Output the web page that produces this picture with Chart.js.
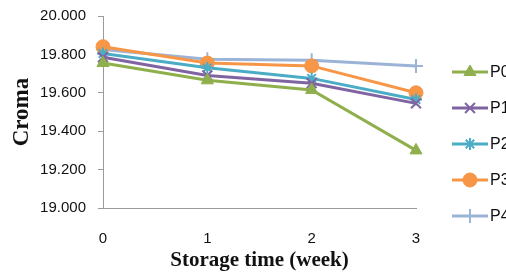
<!DOCTYPE html>
<html>
<head>
<meta charset="utf-8">
<script src="https://cdn.jsdelivr.net/npm/chart.js@4.4.1/dist/chart.umd.min.js"></script>
<style>
  html, body { margin: 0; padding: 0; background: #fff; }
  #wrap { width: 506px; height: 273px; position: relative; }
</style>
</head>
<body>
<div id="wrap"><canvas id="cromaChart"></canvas></div>
<script>
// storage weeks and croma readings per treatment
const weeks = ['0', '1', '2', '3'];
const p0 = [19.755, 19.665, 19.615, 19.300];
const p1 = [19.785, 19.690, 19.650, 19.545];
const p2 = [19.805, 19.730, 19.675, 19.565];
const p3 = [19.840, 19.755, 19.740, 19.600];
const p4 = [19.825, 19.775, 19.770, 19.740];
const seriesNames = ['P0', 'P1', 'P2', 'P3', 'P4'];
const yTicks = [19.0, 19.2, 19.4, 19.6, 19.8, 20.0];

const tickFont = { family: 'Liberation Sans', size: 15 };

function series(label, data, color, style, radius, fill) {
    return {
        label: label,
        data: data,
        borderColor: color,
        backgroundColor: color,
        borderWidth: 3,
        pointStyle: style,
        pointRadius: radius,
        pointBorderWidth: fill ? 1 : 2,
        pointBackgroundColor: color,
        pointBorderColor: color,
        tension: 0
    };
}

// legend with line + marker, like the spreadsheet one
const lineLegend = {
    id: 'lineLegend',
    afterDraw(chart) {
        const ctx = chart.ctx;
        const x0 = chart.chartArea.right + 36;
        const top = 72;
        const step = 36;
        chart.data.datasets.forEach((ds, i) => {
            const y = top + i * step;
            ctx.save();
            ctx.strokeStyle = ds.borderColor;
            ctx.lineWidth = 3;
            ctx.beginPath();
            ctx.moveTo(x0, y);
            ctx.lineTo(x0 + 36, y);
            ctx.stroke();
            ctx.lineWidth = ds.pointBorderWidth;
            ctx.fillStyle = ds.pointBackgroundColor;
            Chart.helpers.drawPoint(ctx, {
                pointStyle: ds.pointStyle,
                radius: ds.pointRadius,
                rotation: 0,
                borderWidth: ds.pointBorderWidth
            }, x0 + 18, y);
            ctx.fillStyle = '#111';
            ctx.font = '16px "Liberation Sans"';
            ctx.textBaseline = 'middle';
            ctx.fillText(ds.label, x0 + 38, y + 1);
            ctx.restore();
        });
    }
};

const chart = new Chart(document.getElementById('cromaChart'), {
    type: 'line',
    data: {
        labels: weeks,
        datasets: [
            series(seriesNames[0], p0, '#8faf4c', 'triangle', 7, true),
            series(seriesNames[1], p1, '#8064a2', 'crossRot', 7, false),
            series(seriesNames[2], p2, '#4bacc6', 'star', 6, false),
            series(seriesNames[3], p3, '#f79646', 'circle', 7, true),
            series(seriesNames[4], p4, '#9bb3d6', 'cross', 7, false)
        ]
    },
    options: {
        responsive: true,
        maintainAspectRatio: false,
        animation: false,
        layout: { padding: { left: 0, right: 90, top: 16, bottom: 0 } },
        plugins: {
            legend: { display: false },
            tooltip: { enabled: false }
        },
        scales: {
            x: {
                offset: false,
                grid: { display: false },
                border: { display: true, color: '#9a9a9a', width: 1 },
                ticks: { font: tickFont, color: '#111', padding: 14 },
                title: {
                    display: true,
                    text: 'Storage time (week)',
                    font: { family: 'Liberation Serif', size: 21, weight: 'bold' },
                    color: '#111',
                    padding: { top: 0, bottom: 0 }
                },
                afterFit(scale) {
                    scale.height = 65;
                    scale.paddingLeft = 0;
                    scale.paddingRight = 0;
                }
            },
            y: {
                min: 19,
                max: 20,
                afterBuildTicks(scale) {
                    scale.ticks = yTicks.map(v => ({ value: v }));
                },
                grid: { drawOnChartArea: false, tickLength: 5, color: '#9a9a9a' },
                border: { display: true, color: '#9a9a9a', width: 1 },
                ticks: {
                    font: tickFont,
                    color: '#111',
                    padding: 12,
                    callback: v => v.toFixed(3)
                },
                title: {
                    display: true,
                    text: 'Croma',
                    font: { family: 'Liberation Serif', size: 23, weight: 'bold' },
                    color: '#111',
                    padding: { top: 8, bottom: 0 }
                },
                afterFit(scale) {
                    scale.width = 103;
                    scale.paddingTop = 0;
                    scale.paddingBottom = 0;
                }
            }
        }
    },
    plugins: [lineLegend]
});
</script>
</body>
</html>
